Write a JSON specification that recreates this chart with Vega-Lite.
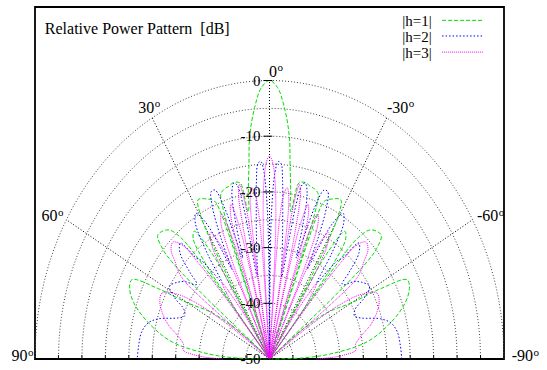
{
  "$schema": "https://vega.github.io/schema/vega-lite/v6.json",
  "width": 469,
  "height": 352,
  "autosize": "none",
  "padding": {"left": 35, "top": 7, "right": 43, "bottom": 11},
  "background": "white",
  "config": {
    "view": {"stroke": "#000", "strokeWidth": 1.8},
    "text": {"font": "Liberation Serif", "fontSize": 16, "color": "#000"}
  },
  "datasets": {
    "patterns": [
      {"s": "|h=1|", "p": [[-90,-50],[-88.5,-43],[-86,-37],[-81.6,-29],[-76,-23.5],[-71,-19.5],[-67,-17.6],[-64.1,-17.4],[-62,-23],[-60.1,-29.7],[-56,-35],[-53.4,-40.3],[-52,-44],[-51.2,-50],[-50.8,-31],[-50,-22.8],[-49,-19.7],[-46.9,-17.4],[-43,-18.3],[-41,-21],[-40,-30],[-39.6,-50],[-39.3,-40],[-38.5,-28],[-37,-23],[-35,-22],[-33,-27],[-32,-36],[-31.5,-50],[-31.2,-35],[-30.5,-25],[-29.5,-19.8],[-28,-17.6],[-25,-18.3],[-22.5,-19.3],[-21.5,-22.5],[-21.1,-30],[-20.8,-50],[-20.5,-28],[-20.1,-21],[-19.3,-18.6],[-17.5,-18],[-15.7,-17.8],[-13.5,-17.4],[-11.2,-17.8],[-10.4,-20.5],[-9.8,-23.2],[-9.2,-22.5],[-8.6,-19.8],[-7.2,-15],[-6,-9.7],[-4,-4.7],[-2,-1.2],[0,0],[2,-1.2],[4,-4.7],[6,-9.7],[7.2,-15],[8.6,-19.8],[9.2,-22.5],[9.8,-23.2],[10.4,-20.5],[11.2,-17.8],[13.5,-17.4],[15.7,-17.8],[17.5,-18],[19.3,-18.6],[20.1,-21],[20.5,-28],[20.8,-50],[21.1,-30],[21.5,-22.5],[22.5,-19.3],[25,-18.3],[28,-17.6],[29.5,-19.8],[30.5,-25],[31.2,-35],[31.5,-50],[32,-36],[33,-27],[35,-22],[37,-23],[38.5,-28],[39.3,-40],[39.6,-50],[40,-30],[41,-21],[43,-18.3],[46.9,-17.4],[49,-19.7],[50,-22.8],[50.8,-31],[51.2,-50],[52,-44],[53.4,-40.3],[56,-35],[60.1,-29.7],[62,-23],[64.1,-17.4],[67,-17.6],[71,-19.5],[76,-23.5],[81.6,-29],[86,-37],[88.5,-43],[90,-50]]},
      {"s": "|h=2|", "p": [[-90,-21.8],[-85,-22],[-80,-22.3],[-76,-23.3],[-73,-25.3],[-69.5,-29],[-67,-30.3],[-64,-29.7],[-61.5,-27],[-58.5,-25],[-55,-26],[-52.3,-27.3],[-50,-29.3],[-49,-29.5],[-47.5,-27],[-45,-23],[-42.4,-21.8],[-40.6,-26.2],[-39.5,-27],[-38,-30],[-36.5,-33],[-35,-27],[-33,-21],[-31,-19.5],[-29,-22],[-27.5,-28],[-26.5,-32],[-25.5,-26],[-24,-20],[-22.5,-17.5],[-21,-17.5],[-19.5,-21],[-18.5,-27],[-17.5,-31],[-16.5,-25],[-15,-19],[-13.5,-17.5],[-12.5,-18],[-11.5,-22],[-11,-28],[-10,-35],[-8.5,-32],[-7,-27],[-6,-23],[-5,-18],[-4,-14.8],[-3,-14.5],[-2,-16.5],[-1,-23],[-0.5,-32],[0,-50],[0.5,-32],[1,-23],[2,-16.5],[3,-14.5],[4,-14.8],[5,-18],[6,-23],[7,-27],[8.5,-32],[10,-35],[11,-28],[11.5,-22],[12.5,-18],[13.5,-17.5],[15,-19],[16.5,-25],[17.5,-31],[18.5,-27],[19.5,-21],[21,-17.5],[22.5,-17.5],[24,-20],[25.5,-26],[26.5,-32],[27.5,-28],[29,-22],[31,-19.5],[33,-21],[35,-27],[36.5,-33],[38,-30],[39.5,-27],[40.6,-26.2],[42.4,-21.8],[45,-23],[47.5,-27],[49,-29.5],[50,-29.3],[52.3,-27.3],[55,-26],[58.5,-25],[61.5,-27],[64,-29.7],[67,-30.3],[69.5,-29],[73,-25.3],[76,-23.3],[80,-22.3],[85,-22],[90,-21.8]]},
      {"s": "|h=3|", "p": [[-90,-40],[-88,-35],[-85,-31.5],[-82,-31.5],[-78,-30],[-74,-27.5],[-69.6,-25.5],[-66,-24.4],[-62.7,-24.2],[-59.5,-27],[-57,-32],[-55,-40],[-53.6,-50],[-53,-32],[-52.3,-27],[-51,-25],[-49,-23.3],[-47,-21.3],[-44.4,-20.6],[-42.2,-22.5],[-41.3,-27],[-40.5,-35],[-40,-50],[-39,-38],[-36.5,-33],[-34,-40],[-33,-50],[-32.4,-33],[-31,-26],[-29,-24],[-27,-27],[-25.7,-35],[-25,-50],[-24.4,-31],[-23,-23.5],[-21.5,-22],[-20.4,-25],[-19.5,-34],[-19,-50],[-18.6,-31],[-17.8,-23],[-16.5,-21],[-15.2,-25],[-14.4,-34],[-14,-50],[-13.4,-26],[-12.5,-19.5],[-11.5,-18],[-10.5,-22],[-9.9,-32],[-9.5,-50],[-9,-27],[-8,-20.5],[-7,-19],[-6,-20],[-5,-24],[-4.4,-33],[-4,-50],[-3.6,-33],[-3,-24],[-2,-17.5],[-1,-14.5],[0,-13.6],[1,-14.5],[2,-17.5],[3,-24],[3.6,-33],[4,-50],[4.4,-33],[5,-24],[6,-20],[7,-19],[8,-20.5],[9,-27],[9.5,-50],[9.9,-32],[10.5,-22],[11.5,-18],[12.5,-19.5],[13.4,-26],[14,-50],[14.4,-34],[15.2,-25],[16.5,-21],[17.8,-23],[18.6,-31],[19,-50],[19.5,-34],[20.4,-25],[21.5,-22],[23,-23.5],[24.4,-31],[25,-50],[25.7,-35],[27,-27],[29,-24],[31,-26],[32.4,-33],[33,-50],[34,-40],[36.5,-33],[39,-38],[40,-50],[40.5,-35],[41.3,-27],[42.2,-22.5],[44.4,-20.6],[47,-21.3],[49,-23.3],[51,-25],[52.3,-27],[53,-32],[53.6,-50],[55,-40],[57,-32],[59.5,-27],[62.7,-24.2],[66,-24.4],[69.6,-25.5],[74,-27.5],[78,-30],[82,-31.5],[85,-31.5],[88,-35],[90,-40]]}
    ],
    "rings": [
      {"r": 5, "deg": [-90,-85,-80,-75,-70,-65,-60,-55,-50,-45,-40,-35,-30,-25,-20,-15,-10,-5,0,5,10,15,20,25,30,35,40,45,50,55,60,65,70,75,80,85,90]},
      {"r": 10, "deg": [-90,-85,-80,-75,-70,-65,-60,-55,-50,-45,-40,-35,-30,-25,-20,-15,-10,-5,0,5,10,15,20,25,30,35,40,45,50,55,60,65,70,75,80,85,90]},
      {"r": 15, "deg": [-90,-85,-80,-75,-70,-65,-60,-55,-50,-45,-40,-35,-30,-25,-20,-15,-10,-5,0,5,10,15,20,25,30,35,40,45,50,55,60,65,70,75,80,85,90]},
      {"r": 20, "deg": [-90,-85,-80,-75,-70,-65,-60,-55,-50,-45,-40,-35,-30,-25,-20,-15,-10,-5,0,5,10,15,20,25,30,35,40,45,50,55,60,65,70,75,80,85,90]},
      {"r": 25, "deg": [-90,-85,-80,-75,-70,-65,-60,-55,-50,-45,-40,-35,-30,-25,-20,-15,-10,-5,0,5,10,15,20,25,30,35,40,45,50,55,60,65,70,75,80,85,90]},
      {"r": 30, "deg": [-90,-85,-80,-75,-70,-65,-60,-55,-50,-45,-40,-35,-30,-25,-20,-15,-10,-5,0,5,10,15,20,25,30,35,40,45,50,55,60,65,70,75,80,85,90]},
      {"r": 35, "deg": [-90,-85,-80,-75,-70,-65,-60,-55,-50,-45,-40,-35,-30,-25,-20,-15,-10,-5,0,5,10,15,20,25,30,35,40,45,50,55,60,65,70,75,80,85,90]},
      {"r": 40, "deg": [-90,-85,-80,-75,-70,-65,-60,-55,-50,-45,-40,-35,-30,-25,-20,-15,-10,-5,0,5,10,15,20,25,30,35,40,45,50,55,60,65,70,75,80,85,90]},
      {"r": 45, "deg": [-90,-85,-80,-75,-70,-65,-60,-55,-50,-45,-40,-35,-30,-25,-20,-15,-10,-5,0,5,10,15,20,25,30,35,40,45,50,55,60,65,70,75,80,85,90]},
      {"r": 50, "deg": [-90,-85,-80,-75,-70,-65,-60,-55,-50,-45,-40,-35,-30,-25,-20,-15,-10,-5,0,5,10,15,20,25,30,35,40,45,50,55,60,65,70,75,80,85,90]}
    ],
    "spokes": [
      {"deg": -60, "r": [0, 50]},
      {"deg": -30, "r": [0, 50]},
      {"deg": 0, "r": [0, 50]},
      {"deg": 30, "r": [0, 50]},
      {"deg": 60, "r": [0, 50]}
    ],
    "levels": [{"db": 0}, {"db": -10}, {"db": -20}, {"db": -30}, {"db": -40}, {"db": -50}],
    "xticks": [{"k": -45}, {"k": -40}, {"k": -35}, {"k": -30}, {"k": -25}, {"k": -20}, {"k": -15}, {"k": -10}, {"k": -5}, {"k": 5}, {"k": 10}, {"k": 15}, {"k": 20}, {"k": 25}, {"k": 30}, {"k": 35}, {"k": 40}, {"k": 45}]
  },
  "layer": [
    {
      "data": {"name": "rings"},
      "transform": [
        {"flatten": ["deg"]},
        {"calculate": "-datum.r * sin(datum.deg * PI / 180)", "as": "u"},
        {"calculate": "datum.r * cos(datum.deg * PI / 180)", "as": "v"}
      ],
      "mark": {"type": "line", "interpolate": "catmull-rom", "stroke": "#444", "strokeWidth": 1, "strokeDash": [1, 2]},
      "encoding": {
        "x": {"field": "u", "type": "quantitative", "scale": {"domain": [-50, 50], "nice": false, "zero": false}, "axis": null},
        "y": {"field": "v", "type": "quantitative", "scale": {"domain": [0, 63.2], "nice": false, "zero": false}, "axis": null},
        "detail": {"field": "r"},
        "order": {"field": "deg", "type": "quantitative"}
      }
    },
    {
      "data": {"name": "spokes"},
      "transform": [
        {"flatten": ["r"]},
        {"calculate": "-datum.r * sin(datum.deg * PI / 180)", "as": "u"},
        {"calculate": "datum.r * cos(datum.deg * PI / 180)", "as": "v"}
      ],
      "mark": {"type": "line", "stroke": "#000", "strokeWidth": 1, "strokeDash": [1, 2]},
      "encoding": {
        "x": {"field": "u", "type": "quantitative", "scale": {"domain": [-50, 50], "nice": false, "zero": false}, "axis": null},
        "y": {"field": "v", "type": "quantitative", "scale": {"domain": [0, 63.2], "nice": false, "zero": false}, "axis": null},
        "detail": {"field": "deg"},
        "order": {"field": "r", "type": "quantitative"}
      }
    },
    {
      "data": {"name": "xticks"},
      "mark": {"type": "rule", "stroke": "#000", "strokeWidth": 1},
      "encoding": {
        "x": {"field": "k", "type": "quantitative", "scale": {"domain": [-50, 50], "nice": false, "zero": false}, "axis": null},
        "y": {"datum": 0, "type": "quantitative", "scale": {"domain": [0, 63.2], "nice": false, "zero": false}, "axis": null},
        "y2": {"datum": 0.7}
      }
    },
    {
      "data": {"name": "patterns"},
      "transform": [
        {"flatten": ["p"]},
        {"calculate": "datum.p[0]", "as": "a"},
        {"calculate": "datum.p[1]", "as": "db"},
        {"calculate": "-(datum.db + 50) * sin(datum.a * PI / 180)", "as": "u"},
        {"calculate": "(datum.db + 50) * cos(datum.a * PI / 180)", "as": "v"}
      ],
      "mark": {"type": "line", "interpolate": "catmull-rom", "strokeWidth": 1},
      "encoding": {
        "x": {"field": "u", "type": "quantitative", "scale": {"domain": [-50, 50], "nice": false, "zero": false}, "axis": null},
        "y": {"field": "v", "type": "quantitative", "scale": {"domain": [0, 63.2], "nice": false, "zero": false}, "axis": null},
        "color": {"field": "s", "type": "nominal", "scale": {"domain": ["|h=1|", "|h=2|", "|h=3|"], "range": ["#00e000", "#0000ff", "#ff00ff"]}, "legend": null},
        "strokeDash": {"field": "s", "type": "nominal", "scale": {"domain": ["|h=1|", "|h=2|", "|h=3|"], "range": [[4, 2], [1.5, 2], [1, 1]]}, "legend": null},
        "order": {"field": "a", "type": "quantitative"}
      }
    },
    {
      "data": {"name": "levels"},
      "transform": [{"calculate": "datum.db + 50", "as": "v"}],
      "layer": [
        {
          "mark": {"type": "rule", "stroke": "#000", "strokeWidth": 1},
          "encoding": {
            "x": {"datum": -1.3, "type": "quantitative", "scale": {"domain": [-50, 50], "nice": false, "zero": false}, "axis": null},
            "x2": {"datum": 0.6},
            "y": {"field": "v", "type": "quantitative", "scale": {"domain": [0, 63.2], "nice": false, "zero": false}, "axis": null}
          }
        },
        {
          "mark": {"type": "text", "align": "right", "baseline": "middle", "fontSize": 15},
          "encoding": {
            "x": {"datum": -1.9, "type": "quantitative", "scale": {"domain": [-50, 50], "nice": false, "zero": false}, "axis": null},
            "y": {"field": "v", "type": "quantitative", "scale": {"domain": [0, 63.2], "nice": false, "zero": false}, "axis": null},
            "text": {"field": "db", "type": "nominal"}
          }
        }
      ]
    },
    {
      "data": {"values": [{}]},
      "mark": {"type": "text", "text": "Relative Power Pattern\u00a0 [dB]", "align": "left", "baseline": "alphabetic", "fontSize": 16},
      "encoding": {
        "x": {"datum": -47.9, "type": "quantitative", "scale": {"domain": [-50, 50], "nice": false, "zero": false}, "axis": null},
        "y": {"datum": 58.4, "type": "quantitative", "scale": {"domain": [0, 63.2], "nice": false, "zero": false}, "axis": null}
      }
    },
    {
      "data": {"values": [{"t": "0", "u": 1.6, "v": 50.7}, {"t": "30", "u": -24.6, "v": 44.2}, {"t": "-30", "u": 29.6, "v": 44.2}, {"t": "60", "u": -45.2, "v": 24.7}, {"t": "-60", "u": 48.8, "v": 24.7}, {"t": "90", "u": -51.6, "v": -0.43}, {"t": "-90", "u": 56.2, "v": -0.43}]},
      "encoding": {
        "x": {"field": "u", "type": "quantitative", "scale": {"domain": [-50, 50], "nice": false, "zero": false}, "axis": null},
        "y": {"field": "v", "type": "quantitative", "scale": {"domain": [0, 63.2], "nice": false, "zero": false}, "axis": null}
      },
      "layer": [
        {"mark": {"type": "text", "align": "right", "baseline": "alphabetic", "fontSize": 16}, "encoding": {"text": {"field": "t", "type": "nominal"}}},
        {"mark": {"type": "text", "text": "o", "align": "left", "baseline": "alphabetic", "fontSize": 11, "dy": -5.5, "dx": 0.5}}
      ]
    },
    {
      "data": {"values": [{"s": "|h=1|"}, {"s": "|h=2|"}, {"s": "|h=3|"}]},
      "transform": [
        {"calculate": "datum.s == '|h=1|' ? 60.8 : datum.s == '|h=2|' ? 58.0 : 55.1", "as": "v"}
      ],
      "layer": [
        {
          "mark": {"type": "text", "align": "right", "baseline": "middle", "fontSize": 15, "dy": 1},
          "encoding": {
            "x": {"datum": 34.6, "type": "quantitative", "scale": {"domain": [-50, 50], "nice": false, "zero": false}, "axis": null},
            "y": {"field": "v", "type": "quantitative", "scale": {"domain": [0, 63.2], "nice": false, "zero": false}, "axis": null},
            "text": {"field": "s", "type": "nominal"}
          }
        },
        {
          "mark": {"type": "rule", "strokeWidth": 1},
          "encoding": {
            "x": {"datum": 36.8, "type": "quantitative", "scale": {"domain": [-50, 50], "nice": false, "zero": false}, "axis": null},
            "x2": {"datum": 45.7},
            "y": {"field": "v", "type": "quantitative", "scale": {"domain": [0, 63.2], "nice": false, "zero": false}, "axis": null},
            "color": {"field": "s", "type": "nominal", "scale": {"domain": ["|h=1|", "|h=2|", "|h=3|"], "range": ["#00e000", "#0000ff", "#ff00ff"]}, "legend": null},
            "strokeDash": {"field": "s", "type": "nominal", "scale": {"domain": ["|h=1|", "|h=2|", "|h=3|"], "range": [[4, 2], [1.5, 2], [1, 1]]}, "legend": null}
          }
        }
      ]
    }
  ]
}
